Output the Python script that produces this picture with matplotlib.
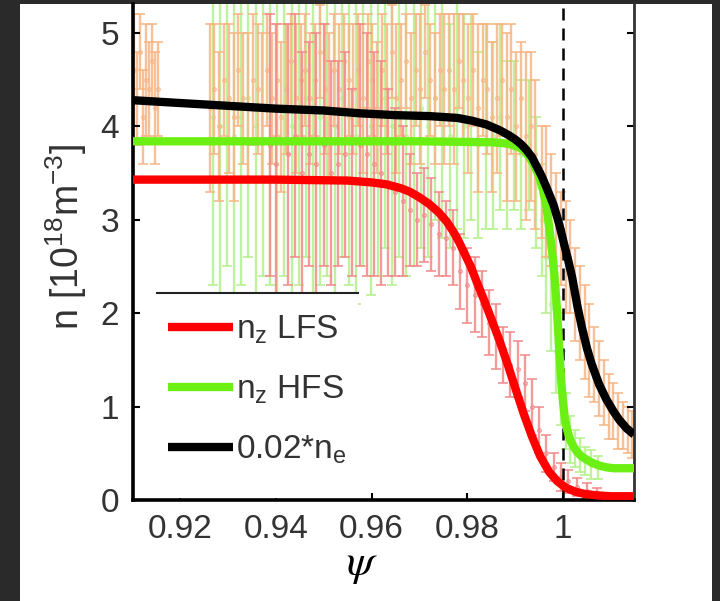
import matplotlib
matplotlib.use("Agg")
import matplotlib.pyplot as plt
from matplotlib.patches import Rectangle

plt.rcParams.update({
    "font.family": "Liberation Sans",
    "mathtext.fontset": "custom",
    "mathtext.rm": "Liberation Sans",
    "mathtext.it": "Liberation Sans:italic",
    "mathtext.bf": "Liberation Sans:bold",
})

# fitted profiles
fit_ne_psi = [0.9102, 0.920, 0.930, 0.940, 0.950, 0.9575, 0.965, 0.972, 0.978, 0.981,
              0.984, 0.9867, 0.9885, 0.9900, 0.9912, 0.9923, 0.9935, 0.9945, 0.9955,
              0.9965, 0.9980, 0.9992, 1.0002, 1.0010, 1.0019, 1.0030, 1.0040, 1.0050,
              1.0060, 1.0075, 1.0090, 1.0105, 1.0117, 1.0132, 1.0148]
fit_ne = [4.28, 4.25, 4.22, 4.19, 4.17, 4.14, 4.12, 4.11, 4.09, 4.06,
          4.02, 3.96, 3.91, 3.86, 3.81, 3.75, 3.67, 3.57, 3.47,
          3.35, 3.16, 2.95, 2.74, 2.58, 2.38, 2.07, 1.83, 1.62,
          1.45, 1.24, 1.08, 0.95, 0.86, 0.77, 0.70]

fit_hfs_psi = [0.9102, 0.940, 0.970, 0.985, 0.9875, 0.9888, 0.9900, 0.9910, 0.9918,
               0.9925, 0.9932, 0.9940, 0.9950, 0.9958, 0.9965, 0.9971, 0.9977, 0.9982,
               0.9987, 0.9992, 0.9996, 1.0000, 1.0004, 1.0009, 1.0015, 1.0022, 1.0030,
               1.0040, 1.0050, 1.0060, 1.0075, 1.0090, 1.0105, 1.0148]
fit_hfs = [3.84, 3.84, 3.84, 3.83, 3.82, 3.81, 3.79, 3.77, 3.74,
           3.70, 3.65, 3.58, 3.46, 3.32, 3.14, 2.92, 2.66, 2.40,
           2.05, 1.60, 1.28, 1.04, 0.86, 0.74, 0.64, 0.57, 0.51,
           0.46, 0.43, 0.40, 0.37, 0.35, 0.34, 0.34]

fit_lfs_psi = [0.9102, 0.940, 0.955, 0.960, 0.963, 0.966, 0.968, 0.970, 0.972, 0.974,
               0.9757, 0.977, 0.9783, 0.9795, 0.9808, 0.9820, 0.9835, 0.9850, 0.9867,
               0.9885, 0.9902, 0.9918, 0.9935, 0.9952, 0.9971, 0.9988, 1.0006, 1.0025,
               1.0045, 1.0070, 1.0100, 1.0148]
fit_lfs = [3.43, 3.43, 3.42, 3.40, 3.38, 3.34, 3.30, 3.24, 3.17, 3.08,
           2.98, 2.88, 2.76, 2.63, 2.49, 2.33, 2.14, 1.94, 1.71,
           1.44, 1.17, 0.92, 0.68, 0.47, 0.30, 0.20, 0.13, 0.09,
           0.065, 0.05, 0.04, 0.04]

# measured points: 0.02*n_e
ne_psi = [0.9105, 0.9111, 0.9117, 0.9123, 0.9129, 0.9135, 0.9141, 0.9148, 0.9155,
          0.9262, 0.9272, 0.9282, 0.9292, 0.9302, 0.9312, 0.9322, 0.9332, 0.9342, 0.9352,
          0.9362, 0.9372, 0.9382, 0.9392, 0.9402, 0.9412, 0.9422, 0.9432, 0.9442, 0.9452,
          0.9462, 0.9472, 0.9482, 0.9492, 0.9502, 0.9512, 0.9522, 0.9532, 0.9542, 0.9552,
          0.9562, 0.9572, 0.9582, 0.9592, 0.9602, 0.9612, 0.9622, 0.9632, 0.9642, 0.9652,
          0.9662, 0.9672, 0.9682, 0.9692, 0.9702, 0.9712, 0.9722, 0.9732, 0.9742, 0.9752,
          0.9762, 0.9772, 0.9782, 0.9792, 0.9802, 0.9812, 0.9822, 0.9832, 0.9842, 0.9852,
          0.9862, 0.9872, 0.9882, 0.9892, 0.9902, 0.9912, 0.9922, 0.9932, 0.9942,
          0.9955, 0.9965, 0.9975, 0.9985, 0.9995, 1.0005, 1.0015, 1.0025, 1.0035, 1.0045,
          1.0055, 1.0065, 1.0075, 1.0085, 1.0095, 1.0105, 1.0115, 1.0125, 1.0135, 1.0143]
ne_val = [4.6, 4.3, 4.8, 4.1, 4.5, 4.4, 4.7, 4.2, 4.4,
          4.2, 4.4, 4.0, 4.5, 4.3, 4.1, 4.6, 4.3, 4.2, 4.5,
          4.4, 4.2, 4.6, 4.3, 4.5, 4.1, 4.4, 4.7, 4.3, 4.5,
          4.6, 4.3, 4.5, 4.8, 4.4, 4.2, 4.6, 4.4, 4.7, 4.5,
          4.4, 4.6, 4.3, 4.7, 4.5, 4.2, 4.6, 4.4, 4.8, 4.3,
          4.5, 4.7, 4.3, 4.6, 4.4, 4.8, 4.5, 4.3, 4.6, 4.4,
          4.6, 4.4, 4.7, 4.5, 4.3, 4.6, 4.2, 4.5, 4.4, 4.1,
          4.3, 4.5, 4.1, 4.4, 4.0, 4.3, 3.9, 4.0, 3.7,
          3.4, 3.3, 3.1, 3.0, 2.8, 2.6, 2.5, 2.2, 2.0, 1.8,
          1.6, 1.45, 1.3, 1.15, 1.0, 0.95, 0.85, 0.8, 0.75, 0.7]
ne_err = [0.6, 0.5, 0.4, 0.5, 0.6, 0.5, 0.4, 0.6, 0.5,
          0.9, 0.7, 0.8, 0.6, 0.8, 0.9, 0.6, 0.7, 0.8, 0.7,
          0.7, 0.8, 0.6, 0.7, 0.6, 0.8, 0.7, 0.5, 0.8, 0.6,
          0.6, 0.7, 0.6, 0.5, 0.7, 0.8, 0.6, 0.7, 0.5, 0.6,
          0.7, 0.6, 0.8, 0.5, 0.6, 0.7, 0.6, 0.7, 0.5, 0.8,
          0.6, 0.5, 0.7, 0.6, 0.8, 0.5, 0.6, 0.7, 0.6, 0.8,
          0.6, 0.8, 0.5, 0.7, 0.8, 0.6, 0.9, 0.6, 0.7, 0.8,
          0.8, 0.6, 0.9, 0.7, 0.8, 0.6, 0.9, 0.8, 0.8,
          0.6, 0.7, 0.6, 0.5, 0.5, 0.6, 0.5, 0.5, 0.5, 0.5,
          0.5, 0.4, 0.4, 0.35, 0.35, 0.3, 0.3, 0.25, 0.25, 0.25]

# measured points: n_z HFS
hfs_psi = [0.9268, 0.9283, 0.9298, 0.9313, 0.9328, 0.9343, 0.9358, 0.9373, 0.9388, 0.9403,
           0.9418, 0.9433, 0.9448, 0.9463, 0.9478, 0.9493, 0.9508, 0.9523, 0.9538, 0.9553,
           0.9568, 0.9583, 0.9598, 0.9613, 0.9628, 0.9643, 0.9658, 0.9673, 0.9688, 0.9703,
           0.9718, 0.9733, 0.9748, 0.9763, 0.9778, 0.9793, 0.9808, 0.9823, 0.9838, 0.9853,
           0.9868, 0.9883, 0.9898, 0.9913, 0.9928,
           0.9943, 0.9955, 0.9965, 0.9975, 0.9985, 0.9995, 1.0005, 1.0015, 1.0025, 1.0035,
           1.0045, 1.0058, 1.0072]
hfs_val = [4.1, 4.0, 4.2, 3.9, 4.1, 4.3, 4.0, 4.2, 4.1, 3.9,
           4.2, 4.0, 4.1, 4.3, 3.9, 4.1, 4.2, 4.0, 4.3, 4.1,
           3.9, 4.2, 4.0, 4.1, 4.3, 4.0, 4.2, 3.9, 4.1, 4.2,
           4.0, 4.3, 4.1, 3.9, 4.2, 4.0, 4.1, 3.8, 4.0, 3.9,
           4.1, 3.8, 3.9, 3.7, 3.8,
           3.4, 3.0, 2.6, 2.1, 1.6, 1.2, 0.85, 0.65, 0.55, 0.48,
           0.42, 0.38, 0.35]
hfs_err = [1.8, 1.9, 1.7, 2.0, 1.8, 1.7, 1.9, 1.8, 1.8, 1.9,
           1.8, 1.9, 1.8, 1.7, 1.9, 1.8, 1.8, 1.9, 1.7, 1.8,
           1.8, 1.7, 1.8, 1.7, 1.6, 1.7, 1.6, 1.5, 1.6, 1.5,
           1.4, 1.3, 1.3, 1.2, 1.3, 1.2, 1.1, 1.0, 1.1, 1.0,
           1.0, 0.9, 0.8, 0.8, 0.7,
           0.7, 0.6, 0.6, 0.5, 0.45, 0.4, 0.3, 0.25, 0.2, 0.18,
           0.15, 0.15, 0.12]

# measured points: n_z LFS
lfs_psi = [0.9388, 0.9400, 0.9425, 0.9440, 0.9455, 0.9470, 0.9485, 0.9500, 0.9515, 0.9530,
           0.9545, 0.9560, 0.9575, 0.9590, 0.9605, 0.9620, 0.9635, 0.9650, 0.9665, 0.9680,
           0.9695, 0.9710, 0.9725, 0.9740, 0.9755, 0.9770, 0.9785, 0.9800, 0.9815, 0.9830,
           0.9845, 0.9860, 0.9875, 0.9890, 0.9905, 0.9920, 0.9935, 0.9950, 0.9965, 0.9980,
           0.9995, 1.0010, 1.0030, 1.0050, 1.0070]
lfs_val = [3.8, 3.6, 3.7, 3.9, 3.5, 3.7, 3.6, 3.8, 3.5, 3.6,
           3.7, 3.4, 3.8, 3.7, 3.6, 3.5, 3.4, 3.3, 3.2, 3.1,
           3.0, 3.05, 2.95, 2.85, 2.8, 2.7, 2.45, 2.3, 2.2, 2.1,
           1.9, 1.75, 1.55, 1.45, 1.4, 1.25, 1.0, 0.75, 0.5, 0.35,
           0.25, 0.2, 0.14, 0.1, 0.07]
lfs_err = [1.4, 1.5, 1.4, 1.3, 1.3, 1.2, 1.4, 1.3, 1.2, 1.1,
           1.1, 1.0, 1.3, 1.3, 1.2, 1.2, 1.0, 0.9, 0.8, 0.6,
           0.5, 0.5, 0.5, 0.45, 0.4, 0.4, 0.4, 0.4, 0.4, 0.35,
           0.35, 0.35, 0.3, 0.35, 0.3, 0.3, 0.3, 0.25, 0.2, 0.15,
           0.15, 0.12, 0.1, 0.08, 0.06]

xticks = [0.92, 0.94, 0.96, 0.98, 1.0]
xtick_labels = ["0.92", "0.94", "0.96", "0.98", "1"]
yticks = [0, 1, 2, 3, 4, 5]

fig = plt.figure(figsize=(7.2, 6.01), dpi=100)
fig.patch.set_facecolor("#2a2a2a")
fig.add_artist(Rectangle((20 / 720, 0), 692 / 720, 597 / 601, transform=fig.transFigure,
                         facecolor="white", edgecolor="none", zorder=-5))

ax = fig.add_axes([133 / 720, 1 - 500 / 601, 501 / 720, 496 / 601])

eb = dict(fmt="o", ms=2.5, mfc="none", elinewidth=1.7, capsize=3.5, capthick=1.3, alpha=0.85)
ax.errorbar(hfs_psi, hfs_val, yerr=hfs_err, color="#b4f08c", zorder=1, **eb)
ax.errorbar(ne_psi, ne_val, yerr=ne_err, color="#f7b585", zorder=1.2, **eb)
ax.errorbar(lfs_psi, lfs_val, yerr=lfs_err, color="#f28a8a", zorder=1.4, **eb)

ax.axvline(1.0, color="black", lw=1.8, ls=(0, (4.8, 3.2)), zorder=2)

ax.plot(fit_lfs_psi, fit_lfs, color="#ff0000", lw=6, solid_capstyle="butt",
        solid_joinstyle="round", zorder=3, label=r"n$_{\rm z}$ LFS")
ax.plot(fit_hfs_psi, fit_hfs, color="#6cf014", lw=6, solid_capstyle="butt",
        solid_joinstyle="round", zorder=3, label=r"n$_{\rm z}$ HFS")
ax.plot(fit_ne_psi, fit_ne, color="black", lw=6, solid_capstyle="butt",
        solid_joinstyle="round", zorder=3, label=r"0.02*n$_{\rm e}$")

ax.set_xlim(0.9102, 1.0148)
ax.set_ylim(0, 5.31)
ax.set_xticks(xticks)
ax.set_xticklabels(xtick_labels)
ax.set_yticks(yticks)
ax.tick_params(direction="in", length=5, width=1.5, right=True, top=False,
               labelsize=24, pad=10, labelcolor="#333333")
for side in ("left", "bottom"):
    ax.spines[side].set_linewidth(2.6)
ax.spines["right"].set_linewidth(2.0)
ax.spines["right"].set_color("#333333")
ax.spines["top"].set_visible(False)

# legend box: white background with only its top edge visible
ax.add_patch(Rectangle((0.048, 0.004), 0.401, 0.413, transform=ax.transAxes,
                       facecolor="white", edgecolor="none", zorder=4))
ax.plot([0.048, 0.449], [0.417, 0.417], transform=ax.transAxes, color="#222222",
        lw=1.5, zorder=5, clip_on=False)
leg = ax.legend(loc="upper left", bbox_to_anchor=(0.07, 0.375), frameon=False,
                fontsize=24, handlelength=1.95, handletextpad=0.08, labelspacing=0.82,
                borderpad=0, borderaxespad=0)
leg.set_zorder(6)
for t in leg.get_texts():
    t.set_color("#333333")

fig.text(66 / 720, 1 - 237 / 601, r"n [10$^{18}$m$^{-3}$]", rotation=90,
         ha="center", va="center", fontsize=27, color="#333333")
fig.text(362 / 720, 1 - 566 / 601, r"$\psi$", math_fontfamily="stix",
         ha="center", va="center", fontsize=32, color="black")

fig.savefig("out.png", dpi=100, facecolor=fig.get_facecolor())
